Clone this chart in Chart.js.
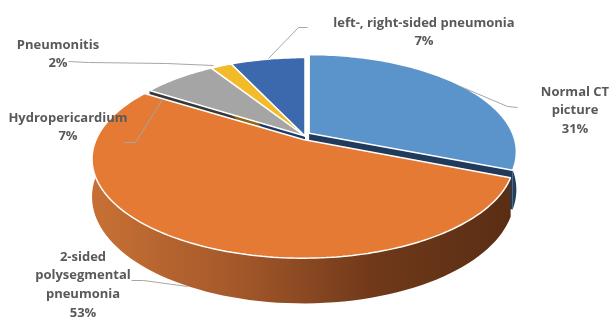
<!DOCTYPE html>
<html>
<head>
<meta charset="utf-8">
<script src="https://cdn.jsdelivr.net/npm/chart.js@4/dist/chart.umd.min.js"></script>
<style>
  html, body { margin: 0; padding: 0; background: #fff; }
  #wrap { width: 611px; height: 318px; position: relative; }
</style>
</head>
<body>
<div id="wrap"><canvas id="pie"></canvas></div>
<script>
const categories = ['Normal CT picture', '2-sided polysegmental pneumonia', 'Hydropericardium', 'Pneumonitis', 'left-, right-sided pneumonia'];
const shares = [31, 53, 7, 2, 7];
const labelLines = [['Normal CT', 'picture'], ['2-sided', 'polysegmental', 'pneumonia'], ['Hydropericardium'], ['Pneumonitis'], ['left-, right-sided pneumonia']];
const topColors = ['#5B93CB', '#E47A34', '#A5A5A5', '#F2BB2A', '#3C68AE'];
const explode = [20, 16, 0, 0, 0];

// perspective view of the pie plane (screen centre, half spans, foreshortening, wall height)
const VIEW = { cx: 305, cy: 136, sx: 203, sy: 93.5, persp: 0.192, depth: 36.4 };
const wallColors = [
  ['#34608C', '#223F5E'],
  ['#C56F34', '#A4582A', '#70391A', '#5A2E14'],
  ['#7A7A7A', '#5A5A5A'],
  ['#B88A18', '#8A6710'],
  ['#2C4E86', '#1F3A66']
];
const faceColors = ['#1F3A5A', '#6E3A18', '#383838', '#8A6710', '#1F3A66'];

// label anchors (text centre of first line) and leader polylines
const labelPos = [[575, 92], [83, 257], [68, 118], [58, 45], [424, 23]];
const leaders = [
  [[460, 86], [507, 106], [517, 107]],
  [[187, 286], [143, 280], [131, 280]],
  [[162, 99], [135, 142], [124, 142]],
  [[213, 65], [166, 63], [88, 62], [68, 61]],
  [[268, 58], [298, 27], [307, 27]]
];

let pc = null; // pie centre/radius as laid out by chart.js

// chart.js pie coords -> screen, returns [x, y, wall height]
function project(x, y) {
  const X = (x - pc.x) / pc.r, Y = (y - pc.y) / pc.r;
  const den = 1 - VIEW.persp * Y;
  return [VIEW.cx + VIEW.sx * X / den, VIEW.cy + VIEW.sy * Y / den, VIEW.depth / den];
}

function sliceGeom(el) {
  const off = (el.options.offset || 0) / 4;
  const mid = (el.startAngle + el.endAngle) / 2;
  const span = el.endAngle - el.startAngle;
  return {
    tx: Math.cos(mid) * off,
    ty: Math.sin(mid) * off,
    r: el.outerRadius + off * (1 - Math.sin(Math.min(Math.PI, span))),
    x: el.x,
    y: el.y
  };
}

function rim(g, a) {
  const p = project(g.x + g.r * Math.cos(a), g.y + g.r * Math.sin(a));
  return [p[0] + g.tx, p[1] + g.ty, p[2]];
}

function drawFace(ctx, g, a, fill) {
  const c = project(g.x, g.y);
  const p = rim(g, a);
  const ax = c[0] + g.tx, ay = c[1] + g.ty;
  ctx.beginPath();
  ctx.moveTo(ax, ay);
  ctx.lineTo(p[0], p[1]);
  ctx.lineTo(p[0], p[1] + p[2]);
  ctx.lineTo(ax, ay + c[2]);
  ctx.closePath();
  ctx.fillStyle = fill;
  ctx.fill();
}

function drawWall(ctx, g, a0, a1, stops) {
  const n = 80;
  ctx.beginPath();
  for (let i = 0; i <= n; i++) {
    const p = rim(g, a0 + (a1 - a0) * i / n);
    i ? ctx.lineTo(p[0], p[1]) : ctx.moveTo(p[0], p[1]);
  }
  for (let i = n; i >= 0; i--) {
    const p = rim(g, a0 + (a1 - a0) * i / n);
    ctx.lineTo(p[0], p[1] + p[2]);
  }
  ctx.closePath();
  const grad = ctx.createLinearGradient(VIEW.cx - VIEW.sx, 0, VIEW.cx + VIEW.sx, 0);
  stops.forEach((c, i) => grad.addColorStop(i / (stops.length - 1), c));
  ctx.fillStyle = grad;
  ctx.fill();
}

// route chart.js path calls through the perspective while the slices are drawn
function bendContext(ctx) {
  const lineTo = CanvasRenderingContext2D.prototype.lineTo;
  const moveTo = CanvasRenderingContext2D.prototype.moveTo;
  ctx.moveTo = (x, y) => { const p = project(x, y); moveTo.call(ctx, p[0], p[1]); };
  ctx.lineTo = (x, y) => { const p = project(x, y); lineTo.call(ctx, p[0], p[1]); };
  ctx.arc = (x, y, r, a0, a1, ccw) => {
    let sweep = a1 - a0;
    if (!ccw && sweep < 0) sweep = sweep % (2 * Math.PI) + 2 * Math.PI;
    if (ccw && sweep > 0) sweep = sweep % (2 * Math.PI) - 2 * Math.PI;
    const n = Math.max(2, Math.ceil(Math.abs(sweep) * 48));
    for (let i = 0; i <= n; i++) {
      const a = a0 + sweep * i / n;
      ctx.lineTo(x + r * Math.cos(a), y + r * Math.sin(a));
    }
  };
}

function restoreContext(ctx) {
  delete ctx.moveTo;
  delete ctx.lineTo;
  delete ctx.arc;
}

const pie3d = {
  id: 'pie3d',
  beforeDatasetsDraw(chart) {
    const ctx = chart.ctx;
    const arcs = chart.getDatasetMeta(0).data;
    pc = { x: arcs[0].x, y: arcs[0].y, r: arcs[0].outerRadius };
    const edge = Math.asin(VIEW.persp);
    // cut faces first, then the outer walls facing the viewer
    arcs.forEach((el, i) => {
      const g = sliceGeom(el);
      if (Math.cos(el.startAngle) < -1e-6) drawFace(ctx, g, el.startAngle, faceColors[i]);
      if (Math.cos(el.endAngle) > 1e-6) drawFace(ctx, g, el.endAngle, faceColors[i]);
    });
    arcs.forEach((el, i) => {
      const a0 = Math.max(el.startAngle, -edge), a1 = Math.min(el.endAngle, Math.PI + edge);
      if (a1 > a0) drawWall(ctx, sliceGeom(el), a0, a1, wallColors[i]);
    });
    bendContext(ctx);
  },
  afterDatasetsDraw(chart) {
    restoreContext(chart.ctx);
  },
  afterDraw(chart) {
    const ctx = chart.ctx;
    const total = shares.reduce((a, b) => a + b, 0);
    ctx.save();
    ctx.strokeStyle = '#A6A6A6';
    ctx.lineWidth = 1;
    leaders.forEach(pts => {
      ctx.beginPath();
      pts.forEach((p, j) => j ? ctx.lineTo(p[0] + 0.5, p[1] + 0.5) : ctx.moveTo(p[0] + 0.5, p[1] + 0.5));
      ctx.stroke();
    });
    ctx.fillStyle = '#595959';
    ctx.font = '700 13px "Open Sans"';
    ctx.textAlign = 'center';
    ctx.textBaseline = 'middle';
    labelLines.forEach((lines, i) => {
      const rows = lines.concat([Math.round(shares[i] / total * 100) + '%']);
      rows.forEach((t, j) => ctx.fillText(t, labelPos[i][0], labelPos[i][1] + j * 18.7));
    });
    ctx.restore();
  }
};

new Chart(document.getElementById('pie'), {
  type: 'pie',
  data: {
    labels: categories,
    datasets: [{
      data: shares,
      backgroundColor: topColors,
      borderColor: '#FFFFFF',
      borderWidth: 1.5,
      offset: explode,
      clip: false
    }]
  },
  options: {
    responsive: true,
    maintainAspectRatio: false,
    devicePixelRatio: 1,
    animation: false,
    events: [],
    radius: 200,
    plugins: { legend: { display: false }, tooltip: { enabled: false } }
  },
  plugins: [pie3d]
});
</script>
</body>
</html>
